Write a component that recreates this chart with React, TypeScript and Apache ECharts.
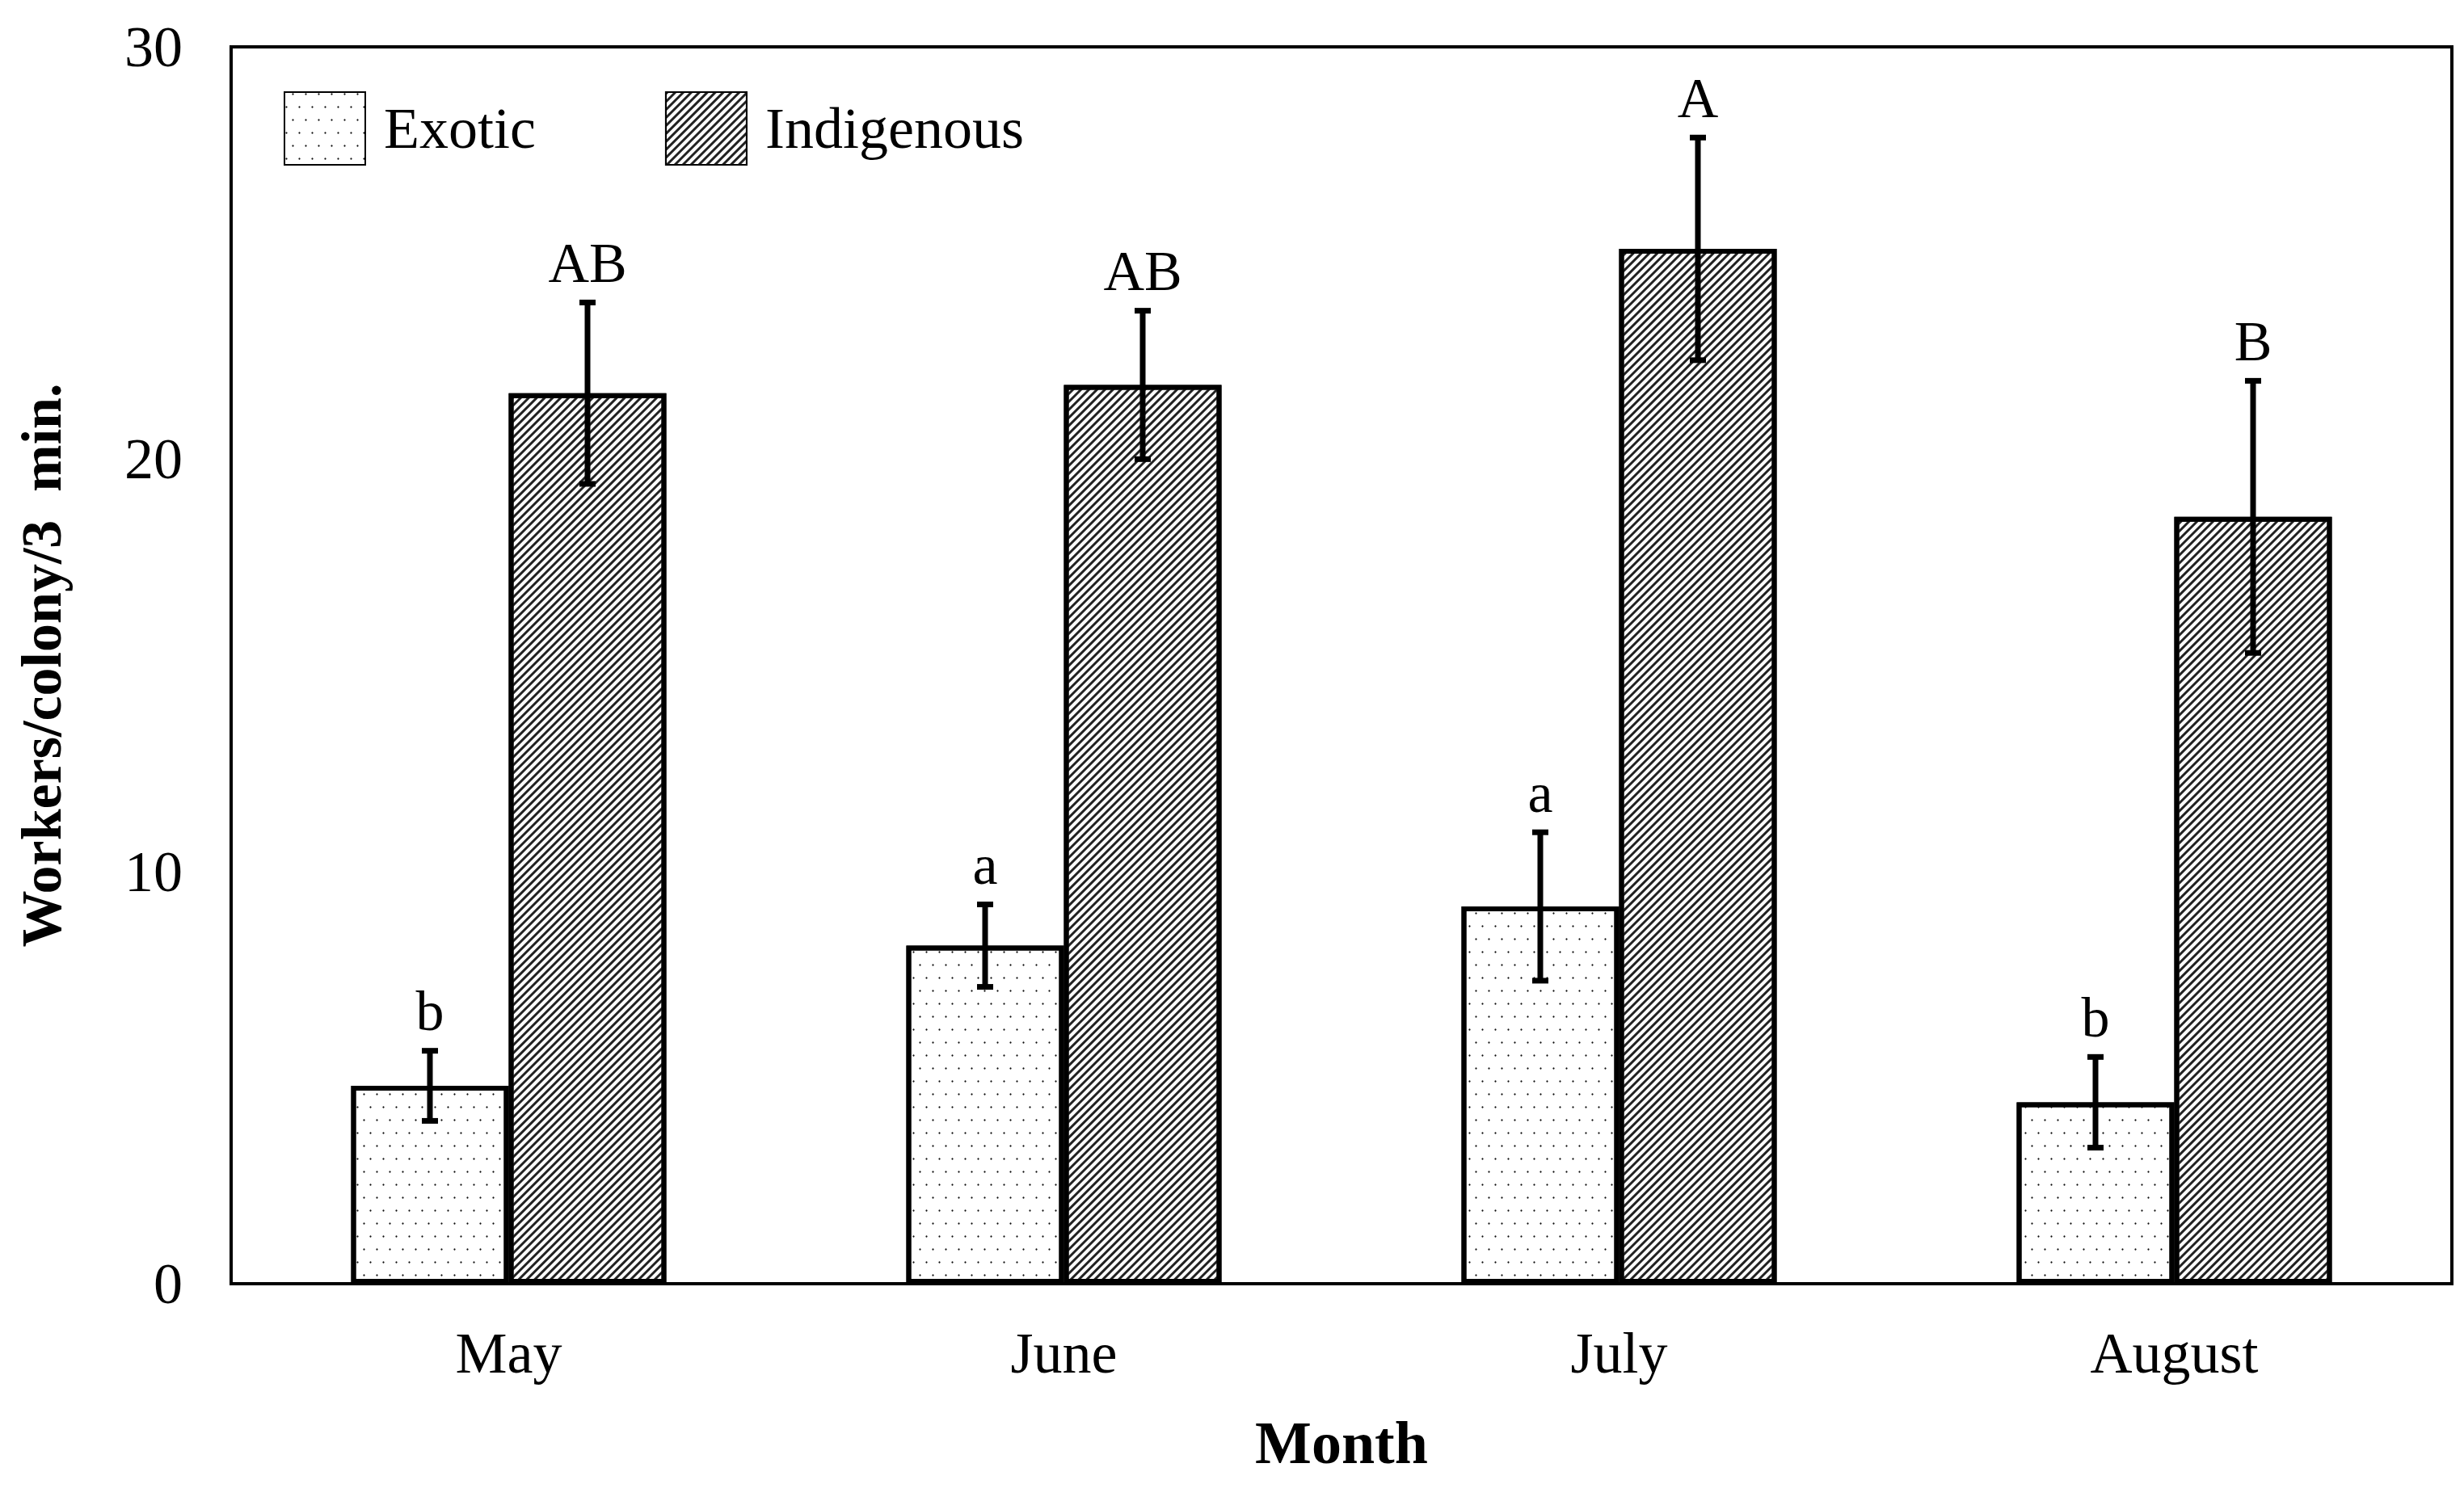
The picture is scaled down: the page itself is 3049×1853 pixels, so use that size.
import { useEffect, useRef } from 'react'
import * as echarts from 'echarts'

const months = ['May', 'June', 'July', 'August']
const exotic = [4.8, 8.2, 9.15, 4.4]
const exoticErr = [0.85, 1.0, 1.8, 1.1]
const exoticLetters = ['b', 'a', 'a', 'b']
const indigenous = [21.6, 21.8, 25.1, 18.6]
const indigenousErr = [2.2, 1.8, 2.7, 3.3]
const indigenousLetters = ['AB', 'AB', 'A', 'B']
const yTicks = [0, 10, 20, 30]

const FONT = 'Liberation Serif'
const BAR_W = 195

const errSeries = (vals: number[], errs: number[], letters: string[], shift: number) => ({
  type: 'custom',
  silent: true,
  z: 10,
  data: vals.map((v, i) => [i, v, errs[i]]),
  renderItem: (params: any, api: any) => {
    const i = api.value(0)
    const v = api.value(1)
    const e = api.value(2)
    const top = api.coord([i, v + e])
    const bot = api.coord([i, v - e])
    const x = top[0] + shift
    const cap = 10
    const lineStyle = { stroke: '#000', lineWidth: 7 }
    return {
      type: 'group',
      children: [
        { type: 'line', shape: { x1: x, y1: top[1], x2: x, y2: bot[1] }, style: lineStyle },
        { type: 'line', shape: { x1: x - cap, y1: top[1], x2: x + cap, y2: top[1] }, style: lineStyle },
        { type: 'line', shape: { x1: x - cap, y1: bot[1], x2: x + cap, y2: bot[1] }, style: lineStyle },
        {
          type: 'text',
          x,
          y: top[1] - 14,
          style: {
            text: letters[params.dataIndex],
            font: `70px "${FONT}"`,
            fill: '#000',
            align: 'center',
            verticalAlign: 'bottom',
          },
        },
      ],
    }
  },
})

export default function App() {
  const main = useRef<HTMLDivElement>(null)
  useEffect(() => {
    const chart = echarts.init(main.current, null, { renderer: 'svg' })
    chart.setOption({
      animation: false,
      textStyle: { fontFamily: FONT, color: '#000' },
      grid: {
        left: 274,
        right: 7,
        top: 50,
        bottom: 256,
        show: true,
        borderColor: '#000',
        borderWidth: 4,
      },
      legend: {
        left: 338,
        top: 100,
        icon: 'rect',
        itemWidth: 100,
        itemHeight: 90,
        itemGap: 160,
        textStyle: { fontSize: 72, fontFamily: FONT, color: '#000', padding: [0, 0, 0, 18] },
        data: ['Exotic', 'Indigenous'],
      },
      xAxis: {
        type: 'category',
        data: months,
        axisLine: { lineStyle: { color: '#000', width: 4 } },
        axisTick: { show: false },
        axisLabel: { fontSize: 72, color: '#000', margin: 50, fontFamily: FONT },
        name: 'Month',
        nameLocation: 'middle',
        nameGap: 160,
        nameTextStyle: { fontSize: 74, fontWeight: 'bold', color: '#000', fontFamily: FONT },
      },
      yAxis: {
        type: 'value',
        min: yTicks[0],
        max: yTicks[yTicks.length - 1],
        interval: 10,
        splitLine: { show: false },
        axisLine: { show: true, lineStyle: { color: '#000', width: 4 } },
        axisTick: { show: false },
        axisLabel: { fontSize: 72, color: '#000', margin: 60, fontFamily: FONT },
        name: 'Workers/colony/3  min.',
        nameLocation: 'middle',
        nameGap: 200,
        nameTextStyle: { fontSize: 70, fontWeight: 'bold', color: '#000', fontFamily: FONT },
      },
      series: [
        {
          name: 'Exotic',
          type: 'bar',
          data: exotic,
          barWidth: BAR_W,
          barGap: '0%',
          itemStyle: {
            color: '#fff',
            borderColor: '#000',
            borderWidth: 6,
            decal: {
              symbol: 'circle',
              symbolSize: 0.45,
              color: '#111',
              dashArrayX: [[5, 11], [0, 8, 5, 3]],
              dashArrayY: [5, 11],
              rotation: 0,
            },
          },
        },
        {
          name: 'Indigenous',
          type: 'bar',
          data: indigenous,
          barWidth: BAR_W,
          itemStyle: {
            color: '#fff',
            borderColor: '#000',
            borderWidth: 6,
            decal: {
              symbol: 'rect',
              symbolSize: 1,
              color: '#222',
              dashArrayX: [1, 0],
              dashArrayY: [2.5, 3.5],
              rotation: -Math.PI / 4,
            },
          },
        },
        errSeries(exotic, exoticErr, exoticLetters, -BAR_W / 2),
        errSeries(indigenous, indigenousErr, indigenousLetters, BAR_W / 2),
      ],
    })
    return () => {
      chart.dispose()
    }
  }, [])
  return <div ref={main} style={{ width: '3033px', height: '1837px' }}></div>
}
